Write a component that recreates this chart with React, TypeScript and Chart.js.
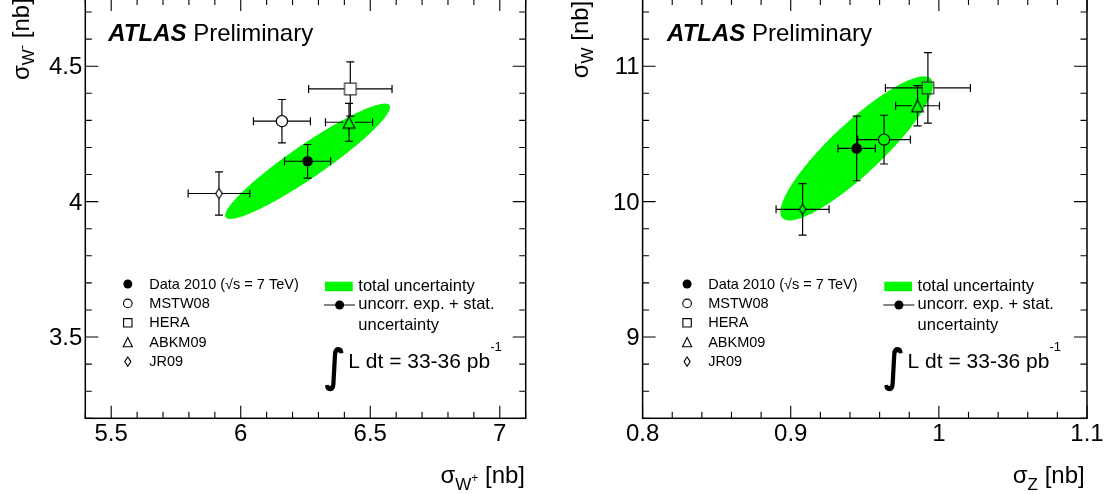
import React, { useEffect, useRef } from 'react';
import { Chart, registerables } from 'chart.js';

Chart.register(...registerables);

const FONT = '"Liberation Sans", Arial, Helvetica, sans-serif';
const GREEN = 'rgb(0,250,0)';

// ---------------- data ----------------
const models = ['Data 2010 (√s = 7 TeV)', 'MSTW08', 'HERA', 'ABKM09', 'JR09'];

// left panel: sigma(W+) vs sigma(W-) [nb]
const sigmaWplus = [6.258, 6.159, 6.423, 6.418, 5.916];
const sigmaWplusErr = [0.089, 0.11, 0.161, 0.091, 0.119];
const sigmaWminus = [4.149, 4.297, 4.416, 4.293, 4.03];
const sigmaWminusErr = [0.062, 0.08, 0.1, 0.07, 0.08];
// total uncertainty of the data: [sigma x, sigma y, correlation]
const wpmEllipse = [0.318, 0.213, 0.938];

// right panel: sigma(Z) vs sigma(W) [nb]
const sigmaZ = [0.9445, 0.963, 0.9926, 0.9856, 0.908];
const sigmaZErr = [0.0126, 0.0178, 0.0287, 0.0148, 0.0179];
const sigmaW = [10.393, 10.458, 10.84, 10.708, 9.943];
const sigmaWErr = [0.239, 0.18, 0.26, 0.148, 0.19];
const zwEllipse = [0.0515, 0.532, 0.881];

// tick labels
const leftXTicks = [5.5, 6, 6.5, 7];
const leftYTicks = [3.5, 4, 4.5];
const rightXTicks = [0.8, 0.9, 1, 1.1];
const rightYTicks = [9, 10, 11];

// ---------------- styles ----------------
const markerKinds = ['dot', 'circle', 'square', 'triangle', 'diamond'];
const markerSize = [5.3, 5.6, 5.8, 5.8, 5];
const legendMarkerSize = [4.5, 4.3, 4.2, 4.6, 4.6];
const markerColor = ['#000', '#000', '#333', '#000', '#000'];

type Seg = { t: string; size: number; dy: number; style?: string };

function drawMarker(ctx: CanvasRenderingContext2D, kind: string, x: number, y: number, s: number, color: string, lw: number) {
  ctx.save();
  ctx.lineWidth = lw;
  ctx.strokeStyle = color;
  ctx.fillStyle = color;
  ctx.beginPath();
  if (kind === 'dot') {
    ctx.arc(x, y, s, 0, Math.PI * 2);
    ctx.fill();
  } else if (kind === 'circle') {
    ctx.arc(x, y, s, 0, Math.PI * 2);
    ctx.stroke();
  } else if (kind === 'square') {
    ctx.rect(x - s, y - s, 2 * s, 2 * s);
    ctx.stroke();
  } else if (kind === 'triangle') {
    ctx.moveTo(x, y - s);
    ctx.lineTo(x + s, y + s);
    ctx.lineTo(x - s, y + s);
    ctx.closePath();
    ctx.stroke();
  } else if (kind === 'diamond') {
    ctx.moveTo(x, y - s);
    ctx.lineTo(x + s * 0.66, y);
    ctx.lineTo(x, y + s);
    ctx.lineTo(x - s * 0.66, y);
    ctx.closePath();
    ctx.stroke();
  }
  ctx.restore();
}

function markerCanvas(kind: string, s: number, color: string) {
  const c = document.createElement('canvas');
  const n = Math.ceil(s * 2 + 4);
  c.width = n;
  c.height = n;
  const ctx = c.getContext('2d')!;
  drawMarker(ctx, kind, n / 2, n / 2, s, color, 1.2);
  return c;
}

function drawSegs(ctx: CanvasRenderingContext2D, segs: Seg[], x: number, y: number, align: 'left' | 'right') {
  let total = 0;
  for (const s of segs) {
    ctx.font = `${s.style || ''} ${s.size}px ${FONT}`;
    total += ctx.measureText(s.t).width;
  }
  let cx = align === 'right' ? x - total : x;
  ctx.textAlign = 'left';
  ctx.textBaseline = 'alphabetic';
  for (const s of segs) {
    ctx.font = `${s.style || ''} ${s.size}px ${FONT}`;
    ctx.fillText(s.t, cx, y + s.dy);
    cx += ctx.measureText(s.t).width;
  }
}

type Panel = {
  xs: number[]; ys: number[]; xErr: number[]; yErr: number[]; ellipse: number[];
  xRange: number[]; yRange: number[]; xTicks: number[]; yTicks: number[];
  xMinor: number; yMinor: number; xMajor: number; yMajor: number;
  yWidth: number; padRight: number;
  xTitle: Seg[]; yTitle: Seg[];
  yTitlePos: number[]; xTitleInset: number; atlasDx: number;
  legMk: number; legTx: number; col2: number;
};

const leftPanel: Panel = {
  xs: sigmaWplus, ys: sigmaWminus, xErr: sigmaWplusErr, yErr: sigmaWminusErr, ellipse: wpmEllipse,
  xRange: [5.4, 7.1], yRange: [3.2, 4.75], xTicks: leftXTicks, yTicks: leftYTicks,
  xMinor: 0.1, yMinor: 0.1, xMajor: 0.5, yMajor: 0.5,
  yWidth: 85.3, padRight: 34.3,
  xTitle: [
    { t: 'σ', size: 24, dy: 0 },
    { t: 'W', size: 17, dy: 7 },
    { t: '+', size: 12, dy: -1 },
    { t: ' [nb]', size: 24, dy: 0 },
  ],
  yTitle: [
    { t: 'σ', size: 24, dy: 0 },
    { t: 'W', size: 17, dy: 5 },
    { t: '-', size: 13, dy: -3 },
    { t: ' [nb]', size: 24, dy: 0 },
  ],
  yTitlePos: [-56.8, 81.5], xTitleInset: 0.7, atlasDx: 23,
  legMk: 42.5, legTx: 64, col2: 239.7,
};

const rightPanel: Panel = {
  xs: sigmaZ, ys: sigmaW, xErr: sigmaZErr, yErr: sigmaWErr, ellipse: zwEllipse,
  xRange: [0.8, 1.1], yRange: [8.4, 11.5], xTicks: rightXTicks, yTicks: rightYTicks,
  xMinor: 0.02, yMinor: 0.2, xMajor: 0.1, yMajor: 1,
  yWidth: 82.6, padRight: 17,
  xTitle: [
    { t: 'σ', size: 24, dy: 0 },
    { t: 'Z', size: 17, dy: 7 },
    { t: ' [nb]', size: 24, dy: 0 },
  ],
  yTitle: [
    { t: 'σ', size: 24, dy: 0 },
    { t: 'W', size: 17, dy: 5 },
    { t: ' [nb]', size: 24, dy: 0 },
  ],
  yTitlePos: [-54.3, 79.8], xTitleInset: 2.3, atlasDx: 24.5,
  legMk: 44.5, legTx: 65.6, col2: 241.7,
};

const CANVAS_H = 514;
const CANVAS_TOP = -20;
const CHART_TOP = 18.5; // chart area top inside canvas
const CHART_BOTTOM = 438.3;

function isMajor(v: number, major: number) {
  const r = v / major;
  return Math.abs(r - Math.round(r)) < 1e-6;
}

function makeChart(canvas: HTMLCanvasElement, P: Panel) {
  const styles = markerKinds.map((k, i) =>
    k === 'dot' || k === 'circle' ? 'circle' : markerCanvas(k, markerSize[i], markerColor[i])
  );
  const datasets = models.map((m, i) => ({
    label: m,
    data: [{ x: P.xs[i], y: P.ys[i] }],
    pointStyle: styles[i] as any,
    pointRadius: markerSize[i],
    pointHoverRadius: markerSize[i],
    pointBackgroundColor: markerKinds[i] === 'dot' ? '#000' : 'rgba(0,0,0,0)',
    pointBorderColor: markerColor[i],
    pointBorderWidth: markerKinds[i] === 'dot' ? 0 : 1.2,
    showLine: false,
  }));

  const gapX = markerKinds.map((k, i) => (k === 'diamond' ? markerSize[i] * 0.66 : markerSize[i]));
  const gapY = markerSize.slice();

  const drawPlugin = {
    id: 'atlasPanel',
    beforeDatasetsDraw(chart: any) {
      const ctx: CanvasRenderingContext2D = chart.ctx;
      const xs = chart.scales.x;
      const ys = chart.scales.y;
      const ca = chart.chartArea;
      ctx.save();
      ctx.beginPath();
      ctx.rect(ca.left, ca.top, ca.right - ca.left, ca.bottom - ca.top);
      ctx.clip();
      // total uncertainty ellipse
      const [sx, sy, rho] = P.ellipse;
      const cx = P.xs[0];
      const cy = P.ys[0];
      const k = Math.sqrt(1 - rho * rho);
      ctx.beginPath();
      const N = 240;
      for (let i = 0; i <= N; i++) {
        const t = (i / N) * Math.PI * 2;
        const vx = cx + sx * Math.cos(t);
        const vy = cy + sy * (rho * Math.cos(t) + k * Math.sin(t));
        const px = xs.getPixelForValue(vx);
        const py = ys.getPixelForValue(vy);
        if (i === 0) ctx.moveTo(px, py);
        else ctx.lineTo(px, py);
      }
      ctx.closePath();
      ctx.fillStyle = GREEN;
      ctx.fill();
      // error bars
      ctx.strokeStyle = '#000';
      ctx.lineWidth = 1.2;
      const cap = 4;
      P.xs.forEach((x, i) => {
        const y = P.ys[i];
        const px = xs.getPixelForValue(x);
        const py = ys.getPixelForValue(y);
        const xl = xs.getPixelForValue(x - P.xErr[i]);
        const xr = xs.getPixelForValue(x + P.xErr[i]);
        const yt = ys.getPixelForValue(y + P.yErr[i]);
        const yb = ys.getPixelForValue(y - P.yErr[i]);
        ctx.beginPath();
        ctx.moveTo(xl, py); ctx.lineTo(px - gapX[i], py);
        ctx.moveTo(px + gapX[i], py); ctx.lineTo(xr, py);
        ctx.moveTo(px, yt); ctx.lineTo(px, py - gapY[i]);
        ctx.moveTo(px, py + gapY[i]); ctx.lineTo(px, yb);
        ctx.moveTo(xl, py - cap); ctx.lineTo(xl, py + cap);
        ctx.moveTo(xr, py - cap); ctx.lineTo(xr, py + cap);
        ctx.moveTo(px - cap, yt); ctx.lineTo(px + cap, yt);
        ctx.moveTo(px - cap, yb); ctx.lineTo(px + cap, yb);
        ctx.stroke();
      });
      ctx.restore();
    },
    afterDraw(chart: any) {
      const ctx: CanvasRenderingContext2D = chart.ctx;
      const xs = chart.scales.x;
      const ys = chart.scales.y;
      const { left: L, right: R, top: T, bottom: B } = chart.chartArea;
      ctx.save();
      // frame
      ctx.strokeStyle = '#000';
      ctx.lineWidth = 1.5;
      ctx.strokeRect(L, T, R - L, B - T);
      // ticks on all four sides (inward)
      ctx.lineWidth = 1.1;
      ctx.beginPath();
      const maj = 12.5;
      const min = 6.5;
      const x0 = Math.ceil(P.xRange[0] / P.xMinor - 1e-6);
      const x1 = Math.floor(P.xRange[1] / P.xMinor + 1e-6);
      for (let j = x0; j <= x1; j++) {
        const v = j * P.xMinor;
        const px = xs.getPixelForValue(v);
        const len = isMajor(v, P.xMajor) ? maj : min;
        ctx.moveTo(px, B); ctx.lineTo(px, B - len);
        ctx.moveTo(px, T); ctx.lineTo(px, T + len);
      }
      const y0 = Math.ceil(P.yRange[0] / P.yMinor - 1e-6);
      const y1 = Math.floor(P.yRange[1] / P.yMinor + 1e-6);
      for (let j = y0; j <= y1; j++) {
        const v = j * P.yMinor;
        const py = ys.getPixelForValue(v);
        const len = isMajor(v, P.yMajor) ? maj + 0.5 : min;
        ctx.moveTo(L, py); ctx.lineTo(L + len, py);
        ctx.moveTo(R, py); ctx.lineTo(R - len, py);
      }
      ctx.stroke();

      ctx.fillStyle = '#000';
      // ATLAS Preliminary
      drawSegs(ctx, [
        { t: 'ATLAS', size: 24, dy: 0, style: 'italic bold' },
        { t: ' Preliminary', size: 24, dy: 0 },
      ], L + P.atlasDx, T + 42.2, 'left');

      // legend: models
      models.forEach((m, i) => {
        const yRow = B - 134.3 + i * 19.4;
        drawMarker(ctx, markerKinds[i], L + P.legMk, yRow, legendMarkerSize[i], '#000', 1.1);
        ctx.fillStyle = '#000';
        ctx.font = `14.5px ${FONT}`;
        ctx.textAlign = 'left';
        ctx.textBaseline = 'middle';
        ctx.fillText(m, L + P.legTx, yRow + 0.5);
      });

      // legend: uncertainties
      const c2 = L + P.col2;
      ctx.fillStyle = GREEN;
      ctx.fillRect(c2, B - 136.6, 27.7, 9.5);
      ctx.fillStyle = '#000';
      ctx.font = `16.5px ${FONT}`;
      ctx.textAlign = 'left';
      ctx.textBaseline = 'alphabetic';
      ctx.fillText('total uncertainty', c2 + 33.3, B - 127.6);
      ctx.strokeStyle = '#333';
      ctx.lineWidth = 1.2;
      ctx.beginPath();
      ctx.moveTo(c2 - 1, B - 113.3);
      ctx.lineTo(c2 + 30, B - 113.3);
      ctx.stroke();
      drawMarker(ctx, 'dot', c2 + 14.6, B - 113.3, 4.5, '#000', 1);
      ctx.fillStyle = '#000';
      ctx.font = `16.5px ${FONT}`;
      ctx.fillText('uncorr. exp. + stat.', c2 + 33.3, B - 109);
      ctx.fillText('uncertainty', c2 + 33.3, B - 88.3);

      // luminosity
      ctx.save();
      ctx.font = `bold 30px "DejaVu Sans"`;
      ctx.translate(c2 - 0.5, B - 37);
      ctx.scale(1.15, 1.5);
      ctx.fillText('∫', 0, 0);
      ctx.restore();
      drawSegs(ctx, [
        { t: 'L dt = 33-36 pb', size: 21, dy: 0 },
        { t: '-1', size: 13, dy: -17 },
      ], c2 + 23.3, B - 50.3, 'left');

      // axis titles
      drawSegs(ctx, P.xTitle, R - P.xTitleInset, B + 64.7, 'right');
      ctx.save();
      ctx.translate(L + P.yTitlePos[0], T + P.yTitlePos[1]);
      ctx.rotate(-Math.PI / 2);
      drawSegs(ctx, P.yTitle, 0, 0, 'left');
      ctx.restore();

      ctx.restore();
    },
  };

  const canvasH = CANVAS_H;
  return new Chart(canvas, {
    type: 'scatter',
    data: { datasets: datasets as any },
    options: {
      animation: false,
      responsive: false,
      maintainAspectRatio: false,
      events: [],
      layout: { padding: { left: 0, right: P.padRight, top: CHART_TOP, bottom: 0 } },
      plugins: { legend: { display: false }, tooltip: { enabled: false }, title: { display: false } },
      scales: {
        x: {
          type: 'linear',
          position: 'bottom',
          min: P.xRange[0],
          max: P.xRange[1],
          bounds: 'data',
          afterBuildTicks: (s: any) => { s.ticks = P.xTicks.map((v) => ({ value: v })); },
          afterFit: (s: any) => { s.height = canvasH - CHART_BOTTOM; s.paddingLeft = 0; s.paddingRight = 0; },
          ticks: {
            autoSkip: false,
            maxRotation: 0,
            minRotation: 0,
            padding: 2,
            color: '#000',
            font: { family: FONT, size: 24 },
            callback: (v: any) => String(v),
          },
          grid: { display: false, drawTicks: false },
          border: { display: false },
        },
        y: {
          type: 'linear',
          position: 'left',
          min: P.yRange[0],
          max: P.yRange[1],
          bounds: 'data',
          afterBuildTicks: (s: any) => { s.ticks = P.yTicks.map((v) => ({ value: v })); },
          afterFit: (s: any) => { s.width = P.yWidth; s.paddingTop = 0; s.paddingBottom = 0; },
          ticks: {
            autoSkip: false,
            padding: 3,
            labelOffset: 1.5,
            color: '#000',
            font: { family: FONT, size: 24 },
            callback: (v: any) => String(v),
          },
          grid: { display: false, drawTicks: false },
          border: { display: false },
        },
      },
    } as any,
    plugins: [drawPlugin],
  });
}

export default function App() {
  const leftRef = useRef<HTMLCanvasElement>(null);
  const rightRef = useRef<HTMLCanvasElement>(null);

  useEffect(() => {
    const charts = [
      makeChart(leftRef.current!, leftPanel),
      makeChart(rightRef.current!, rightPanel),
    ];
    return () => charts.forEach((c) => c.destroy());
  }, []);

  return (
    <div style={{ position: 'absolute', left: 0, top: 0, width: 1104, height: 494, overflow: 'hidden', background: '#fff' }}>
      <canvas
        ref={leftRef}
        width={560}
        height={CANVAS_H}
        style={{ position: 'absolute', left: 0, top: CANVAS_TOP, width: 560, height: CANVAS_H }}
      />
      <canvas
        ref={rightRef}
        width={544}
        height={CANVAS_H}
        style={{ position: 'absolute', left: 560, top: CANVAS_TOP, width: 544, height: CANVAS_H }}
      />
    </div>
  );
}
